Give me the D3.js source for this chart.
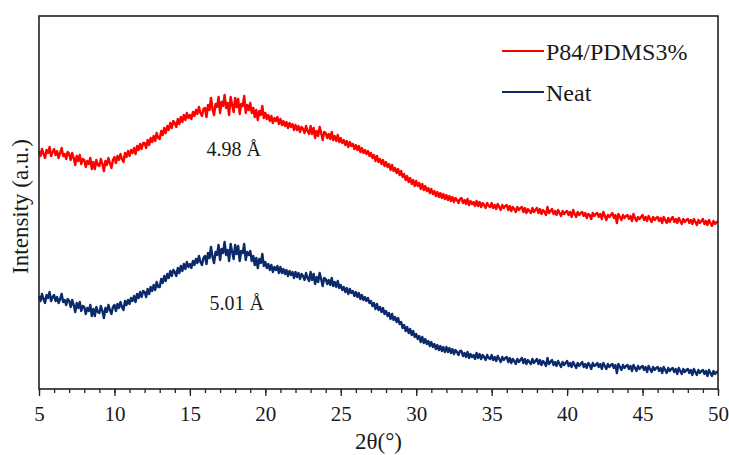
<!DOCTYPE html>
<html>
<head>
<meta charset="utf-8">
<script src="https://cdn.jsdelivr.net/npm/d3@7"></script>
<style>
  body { margin: 0; background: #fff; }
  text { font-family: "Liberation Serif", "Times New Roman", serif; fill: #1a1a1a; }
</style>
</head>
<body>
<div class="d3Chart"></div>
<script>
// 2θ sampling grid (degrees)
var thetaStart = 5;
var thetaStep = 0.1;
var xTicks = [5, 10, 15, 20, 25, 30, 35, 40, 45, 50];
var seriesNames = ["P84/PDMS3%", "Neat"];
var peakLabels = ["4.98 Å", "5.01 Å"];

// intensity (a.u.), one row per degree, 0.1° apart
var pdms3 = [
  238,233,240,235,231,239,236,242,233,237,
  240,234,238,231,236,241,233,235,230,237,
  235,229,236,231,224,233,228,234,225,230,
  229,222,228,225,231,220,227,220,229,224,
  223,230,225,218,228,224,231,226,221,229,
  232,226,233,229,235,230,227,236,232,238,
  233,239,236,241,235,243,239,245,240,246,
  246,241,249,244,251,247,253,248,256,251,
  250,258,254,261,256,263,259,266,261,268,
  266,262,270,265,272,267,274,269,276,271,
  274,270,277,273,279,275,282,276,273,280,
  281,272,284,279,291,280,274,285,282,292,
  276,287,283,294,281,286,274,292,284,277,
  291,282,290,275,285,283,293,276,284,279,
  286,276,281,272,279,269,278,274,283,271,
  276,270,274,268,273,266,271,268,272,265,
  270,264,268,263,267,261,266,262,265,259,
  264,259,263,257,262,260,256,263,258,255,
  263,255,261,251,258,253,262,256,249,257,
  256,251,255,250,257,249,253,248,254,247,
  251,246,249,244,248,242,247,243,245,240,
  244,239,243,237,241,236,239,235,238,233,
  236,231,234,228,233,227,230,225,229,223,
  227,222,225,219,224,218,221,216,220,214,
  218,212,215,209,213,207,211,205,209,203,
  208,203,206,200,205,199,203,198,201,196,
  200,195,198,193,197,192,196,191,195,190,
  194,189,193,188,192,187,191,189,186,190,
  191,186,189,185,190,184,188,185,187,183,
  188,183,187,182,186,184,181,186,183,182,
  186,181,184,180,185,182,179,184,181,183,
  184,179,183,178,182,180,177,182,179,181,
  182,177,181,176,180,178,176,181,177,179,
  181,176,180,175,179,177,174,182,176,178,
  180,175,178,174,179,176,173,178,175,177,
  178,174,177,172,179,175,172,177,174,176,
  177,173,176,171,175,174,170,176,173,175,
  176,172,175,170,177,173,169,174,172,174,
  176,171,174,166,175,172,169,174,171,173,
  174,170,173,168,175,171,168,172,170,172,
  174,169,172,168,173,170,167,172,169,171,
  172,168,171,166,172,169,166,171,167,170,
  172,167,170,166,171,168,165,170,167,169,
  170,166,169,165,170,167,164,169,166,168,
  170,165,168,164,169,166,163,168,165,167,
  167
];

var neat = [
  93,88,95,90,86,94,91,97,88,92,
  94,88,92,86,90,95,87,89,84,90,
  88,82,89,84,77,86,81,87,78,83,
  82,75,81,78,84,73,80,73,82,77,
  76,83,78,71,81,77,84,79,75,82,
  84,78,85,81,87,82,79,88,84,89,
  85,91,88,93,87,95,91,97,92,98,
  97,92,100,95,102,98,104,99,107,102,
  102,110,106,113,108,115,111,118,113,119,
  117,113,121,116,123,118,125,120,127,122,
  125,121,128,124,130,126,133,127,124,131,
  133,125,136,131,142,132,126,137,134,144,
  129,140,136,147,134,139,128,145,137,130,
  144,135,143,128,138,136,145,129,137,134,
  138,128,133,124,131,121,130,126,135,123,
  127,121,125,119,124,117,122,119,123,116,
  122,116,120,115,119,113,118,114,117,111,
  117,112,116,110,115,113,109,116,111,108,
  117,109,115,105,112,107,116,110,103,111,
  110,105,109,104,111,103,107,102,108,101,
  104,99,102,97,101,95,100,96,98,93,
  97,92,96,90,94,89,92,88,91,86,
  88,83,86,80,85,79,82,77,81,75,
  78,73,76,70,75,69,72,67,71,65,
  67,61,64,58,62,56,60,54,58,52,
  55,50,53,47,52,46,50,45,48,43,
  47,42,45,40,44,39,43,38,42,37,
  42,37,41,36,40,35,39,37,34,38,
  38,33,36,32,37,31,35,32,34,30,
  36,31,35,30,34,32,29,34,31,30,
  34,29,32,28,33,30,27,32,29,31,
  32,27,31,26,30,28,25,30,27,29,
  31,26,30,25,29,27,25,30,26,28,
  30,25,29,24,28,26,23,31,25,27,
  29,24,27,23,28,25,22,27,24,26,
  28,23,26,22,27,24,21,26,23,25,
  27,22,25,21,26,24,20,26,23,24,
  26,22,25,20,26,23,20,25,22,24,
  25,21,24,16,25,22,19,24,21,23,
  24,20,23,18,24,21,18,23,20,22,
  23,19,22,17,23,20,17,22,19,21,
  22,18,21,16,22,19,16,21,18,20,
  21,17,20,15,21,18,15,20,17,19,
  20,16,19,14,20,17,14,19,16,18,
  19,15,18,13,19,16,13,18,15,17,
  17
];

var lineColors = ["#ff0000", "#0a2a6c"];

// 畫布
var width = 729;
var height = 455;
var plotL = 39, plotR = 718, plotT = 16, plotB = 389;

var svg = d3
  .select(".d3Chart")
  .append("svg")
  .attr("width", width)
  .attr("height", height);

// 比例尺
var xScale = d3.scaleLinear().domain([5, 50]).range([plotL, plotR]);
var yScale = d3.scaleLinear().domain([0, 373]).range([plotB, plotT]);

// 曲線
var line = d3
  .line()
  .x((d, i) => xScale(thetaStart + i * thetaStep))
  .y((d) => yScale(d));

[pdms3, neat].forEach((s, k) => {
  svg
    .append("path")
    .datum(s)
    .attr("fill", "none")
    .attr("stroke", lineColors[k])
    .attr("stroke-width", 2.4)
    .attr("stroke-linejoin", "round")
    .attr("d", line);
});

// 框線
svg
  .append("rect")
  .attr("x", plotL)
  .attr("y", plotT)
  .attr("width", plotR - plotL)
  .attr("height", plotB - plotT)
  .attr("fill", "none")
  .attr("stroke", "#222")
  .attr("stroke-width", 1.6);

// X 坐標軸: 主刻度 + 次刻度
var minor = d3.axisBottom(xScale).ticks(45).tickSize(4).tickFormat("");
svg.append("g").attr("transform", `translate(0, ${plotB})`).call(minor);
var xAxis = d3.axisBottom(xScale).tickValues(xTicks).tickSize(7).tickPadding(10);
var gx = svg.append("g").attr("transform", `translate(0, ${plotB})`).call(xAxis);
svg.selectAll(".domain").remove();
svg.selectAll(".tick line").attr("stroke", "#222").attr("stroke-width", 1.3);
gx.selectAll("text")
  .style("font-family", '"Liberation Serif", serif')
  .style("font-size", "21px")
  .attr("fill", "#1a1a1a");

// 軸標題
svg
  .append("text")
  .attr("x", (plotL + plotR) / 2)
  .attr("y", 449)
  .attr("text-anchor", "middle")
  .style("font-size", "23px")
  .text("2θ(°)");

svg
  .append("text")
  .attr("transform", `translate(28, ${(plotT + plotB) / 2 + 4}) rotate(-90)`)
  .attr("text-anchor", "middle")
  .style("font-size", "23px")
  .text("Intensity (a.u.)");

// 峰值標註
svg
  .append("text")
  .attr("x", xScale(16.1))
  .attr("y", yScale(233))
  .style("font-size", "20px")
  .text(peakLabels[0]);
svg
  .append("text")
  .attr("x", xScale(16.3))
  .attr("y", yScale(79))
  .style("font-size", "20px")
  .text(peakLabels[1]);

// 圖例
var legend = svg.append("g");
seriesNames.forEach((name, k) => {
  var ly = 51 + k * 41;
  legend
    .append("line")
    .attr("x1", 502)
    .attr("x2", 544)
    .attr("y1", ly)
    .attr("y2", ly)
    .attr("stroke", lineColors[k])
    .attr("stroke-width", 2);
  legend
    .append("text")
    .attr("x", 546)
    .attr("y", ly + 9)
    .style("font-size", "24px")
    .text(name);
});
</script>
</body>
</html>
